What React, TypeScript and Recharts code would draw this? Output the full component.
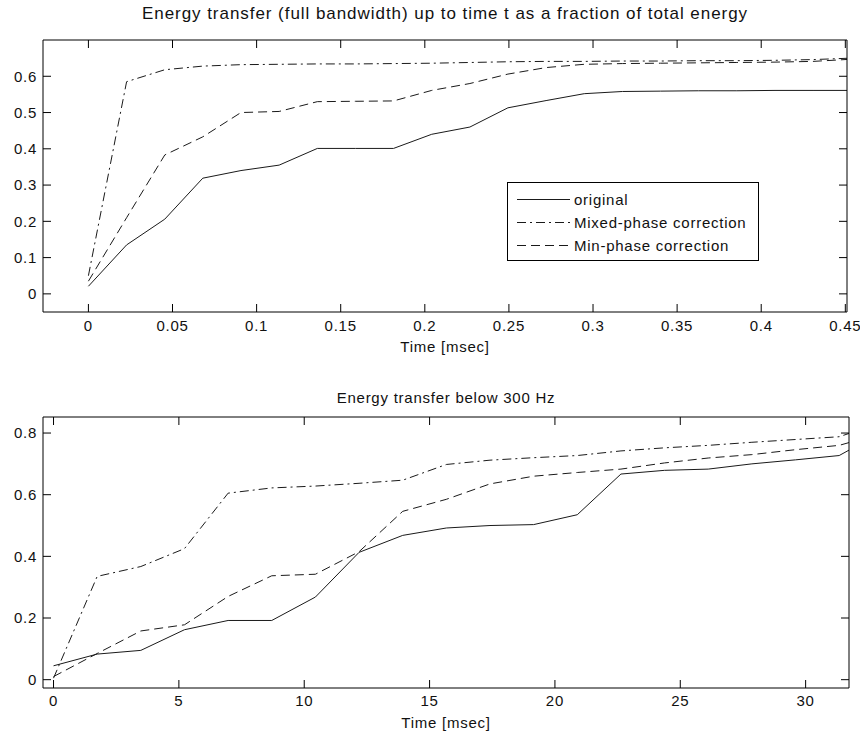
import React from 'react';
import { LineChart, Line, XAxis, YAxis, Legend } from 'recharts';

// ---------- data ----------
const topTimes = [0, 0.0227, 0.0454, 0.068, 0.0907, 0.1134, 0.1361, 0.1587, 0.1814, 0.2041, 0.2268, 0.2494, 0.2721, 0.2948, 0.3175, 0.3401, 0.3628, 0.3855, 0.4082, 0.4308, 0.4535];
const topOriginal = [0.021, 0.135, 0.206, 0.319, 0.34, 0.355, 0.401, 0.401, 0.401, 0.44, 0.46, 0.513, 0.533, 0.552, 0.558, 0.559, 0.56, 0.56, 0.561, 0.561, 0.561];
const topMixed = [0.05, 0.585, 0.618, 0.628, 0.632, 0.633, 0.634, 0.634, 0.635, 0.636, 0.638, 0.64, 0.641, 0.641, 0.642, 0.642, 0.643, 0.643, 0.644, 0.646, 0.65];
const topMinPhase = [0.035, 0.21, 0.383, 0.433, 0.5, 0.503, 0.53, 0.531, 0.532, 0.561, 0.58, 0.606, 0.624, 0.633, 0.635, 0.636, 0.637, 0.638, 0.639, 0.641, 0.647];
const topXTicks = [0, 0.05, 0.1, 0.15, 0.2, 0.25, 0.3, 0.35, 0.4, 0.45];
const topYTicks = [0, 0.1, 0.2, 0.3, 0.4, 0.5, 0.6];
const topXDomain = [-0.027, 0.451];
const topYDomain = [-0.05, 0.7];

const bottomTimes = [0, 1.741, 3.482, 5.223, 6.964, 8.705, 10.446, 12.187, 13.928, 15.669, 17.41, 19.151, 20.892, 22.633, 24.374, 26.115, 27.856, 29.597, 31.338, 33.079];
const bottomOriginal = [0.045, 0.083, 0.095, 0.162, 0.192, 0.192, 0.268, 0.413, 0.468, 0.492, 0.5, 0.503, 0.535, 0.667, 0.679, 0.683, 0.7, 0.713, 0.727, 0.805];
const bottomMixed = [0.005, 0.335, 0.367, 0.425, 0.605, 0.622, 0.628, 0.637, 0.647, 0.698, 0.712, 0.72, 0.727, 0.742, 0.752, 0.76, 0.77, 0.779, 0.788, 0.835];
const bottomMinPhase = [0.01, 0.085, 0.158, 0.178, 0.27, 0.337, 0.342, 0.415, 0.546, 0.585, 0.635, 0.66, 0.672, 0.683, 0.703, 0.719, 0.73, 0.746, 0.76, 0.8];
const bottomXTicks = [0, 5, 10, 15, 20, 25, 30];
const bottomYTicks = [0, 0.2, 0.4, 0.6, 0.8];
const bottomXDomain = [-0.42, 31.73];
const bottomYDomain = [-0.027, 0.852];

const seriesKeys = ['original', 'mixed', 'minPhase'];
const seriesNames = ['original', 'Mixed-phase correction', 'Min-phase correction'];
const seriesDash = ['', '9 4 2 4', '9 5'];

const topTitle = 'Energy transfer (full bandwidth) up to time t as a fraction of total energy';
const bottomTitle = 'Energy transfer below 300 Hz';
const xLabel = 'Time [msec]';

// ---------- build rows ----------
const topData = topTimes.map((t, i) => ({ t, original: topOriginal[i], mixed: topMixed[i], minPhase: topMinPhase[i] }));
const bottomData = bottomTimes.map((t, i) => ({ t, original: bottomOriginal[i], mixed: bottomMixed[i], minPhase: bottomMinPhase[i] }));

// ---------- styles ----------
const FONT = '"Liberation Sans", Arial, Helvetica, sans-serif';
const TXT = { fontFamily: FONT, fontSize: 15, letterSpacing: 0.75, fill: '#111' } as const;
const TICK = 8;
const INK = '#1a1a1a';

const makeBottomTick = (gap: number) => (props: any) => {
  const { x, y, payload } = props;
  return (
    <g>
      <line x1={x} y1={y} x2={x} y2={y - TICK} stroke="#000" strokeWidth={1} />
      <text x={x} y={y + gap} dy="0.72em" textAnchor="middle" style={TXT}>{String(payload.value)}</text>
    </g>
  );
};
const LeftTick = (props: any) => {
  const { x, y, payload } = props;
  return (
    <g>
      <line x1={x} y1={y} x2={x + TICK} y2={y} stroke="#000" strokeWidth={1} />
      <text x={x - 6} y={y} dy="0.36em" textAnchor="end" style={TXT}>{String(payload.value)}</text>
    </g>
  );
};
const TopTick = (props: any) => {
  const { x, y } = props;
  return <line x1={x} y1={y} x2={x} y2={y + TICK} stroke="#000" strokeWidth={1} />;
};
const RightTick = (props: any) => {
  const { x, y } = props;
  return <line x1={x} y1={y} x2={x - TICK} y2={y} stroke="#000" strokeWidth={1} />;
};

const makeTitle = (text: string, base: number, size: number, spacing: number) => (props: any) => {
  const vb = props.viewBox || {};
  return (
    <text x={vb.x + vb.width / 2} y={vb.y + base} textAnchor="middle"
      style={{ fontFamily: FONT, fontSize: size, letterSpacing: spacing, fill: '#111' }}>{text}</text>
  );
};

const renderLegend = () => (
  <svg width={252} height={79} style={{ display: 'block' }}>
    <rect x={0.5} y={0.5} width={251} height={78} fill="#fff" stroke="#000" strokeWidth={1} />
    {seriesNames.map((n, i) => (
      <g key={n}>
        <line x1={10} x2={63} y1={17.5 + 23 * i} y2={17.5 + 23 * i} stroke={INK} strokeWidth={1} strokeDasharray={seriesDash[i] || undefined} />
        <text x={67} y={17.5 + 23 * i} dy="0.36em" style={TXT}>{n}</text>
      </g>
    ))}
  </svg>
);

const axisLine = { stroke: '#000', strokeWidth: 1 };

const renderLines = () =>
  seriesKeys.map((k, i) => (
    <Line key={k} xAxisId="b" yAxisId="l" type="linear" dataKey={k} name={seriesNames[i]}
      stroke={INK} strokeWidth={1} strokeDasharray={seriesDash[i] || undefined}
      dot={false} activeDot={false} isAnimationActive={false} />
  ));

export default function App() {
  return (
    <div style={{ position: 'absolute', left: 0, top: 0, width: 860, height: 735, background: '#fff' }}>
      <LineChart width={860} height={367} data={topData} margin={{ top: 0, right: 0, bottom: 0, left: 0 }}>
        <XAxis xAxisId="b" type="number" dataKey="t" orientation="bottom" domain={topXDomain} allowDataOverflow
          ticks={topXTicks} interval={0} height={55} tickSize={0} tickMargin={0} axisLine={axisLine}
          tick={makeBottomTick(8)} label={makeTitle(xLabel, 40, 15, 0.75)} />
        <XAxis xAxisId="t" type="number" dataKey="t" orientation="top" domain={topXDomain} allowDataOverflow
          ticks={topXTicks} interval={0} height={40} tickSize={0} tickMargin={0} axisLine={axisLine}
          tick={TopTick} label={makeTitle(topTitle, 19, 17, 0.95)} />
        <YAxis yAxisId="l" type="number" orientation="left" domain={topYDomain} allowDataOverflow
          ticks={topYTicks} interval={0} width={43} tickSize={0} tickMargin={0} axisLine={axisLine} tick={LeftTick} />
        <YAxis yAxisId="r" type="number" orientation="right" domain={topYDomain} allowDataOverflow
          ticks={topYTicks} interval={0} width={13} tickSize={0} tickMargin={0} axisLine={axisLine} tick={RightTick} />
        {renderLines()}
        <Legend layout="vertical" align="center" verticalAlign="middle" content={renderLegend}
          wrapperStyle={{ left: 507, top: 182, width: 252, height: 79 }} />
      </LineChart>
      <LineChart width={860} height={368} data={bottomData} margin={{ top: 0, right: 0, bottom: 0, left: 0 }}>
        <XAxis xAxisId="b" type="number" dataKey="t" orientation="bottom" domain={bottomXDomain} allowDataOverflow
          ticks={bottomXTicks} interval={0} height={47} tickSize={0} tickMargin={0} axisLine={axisLine}
          tick={makeBottomTick(7)} label={makeTitle(xLabel, 40, 15, 0.75)} />
        <XAxis xAxisId="t" type="number" dataKey="t" orientation="top" domain={bottomXDomain} allowDataOverflow
          ticks={bottomXTicks} interval={0} height={50} tickSize={0} tickMargin={0} axisLine={axisLine}
          tick={TopTick} label={makeTitle(bottomTitle, 36, 15, 0.75)} />
        <YAxis yAxisId="l" type="number" orientation="left" domain={bottomYDomain} allowDataOverflow
          ticks={bottomYTicks} interval={0} width={43} tickSize={0} tickMargin={0} axisLine={axisLine} tick={LeftTick} />
        <YAxis yAxisId="r" type="number" orientation="right" domain={bottomYDomain} allowDataOverflow
          ticks={bottomYTicks} interval={0} width={11} tickSize={0} tickMargin={0} axisLine={axisLine} tick={RightTick} />
        {renderLines()}
      </LineChart>
    </div>
  );
}
